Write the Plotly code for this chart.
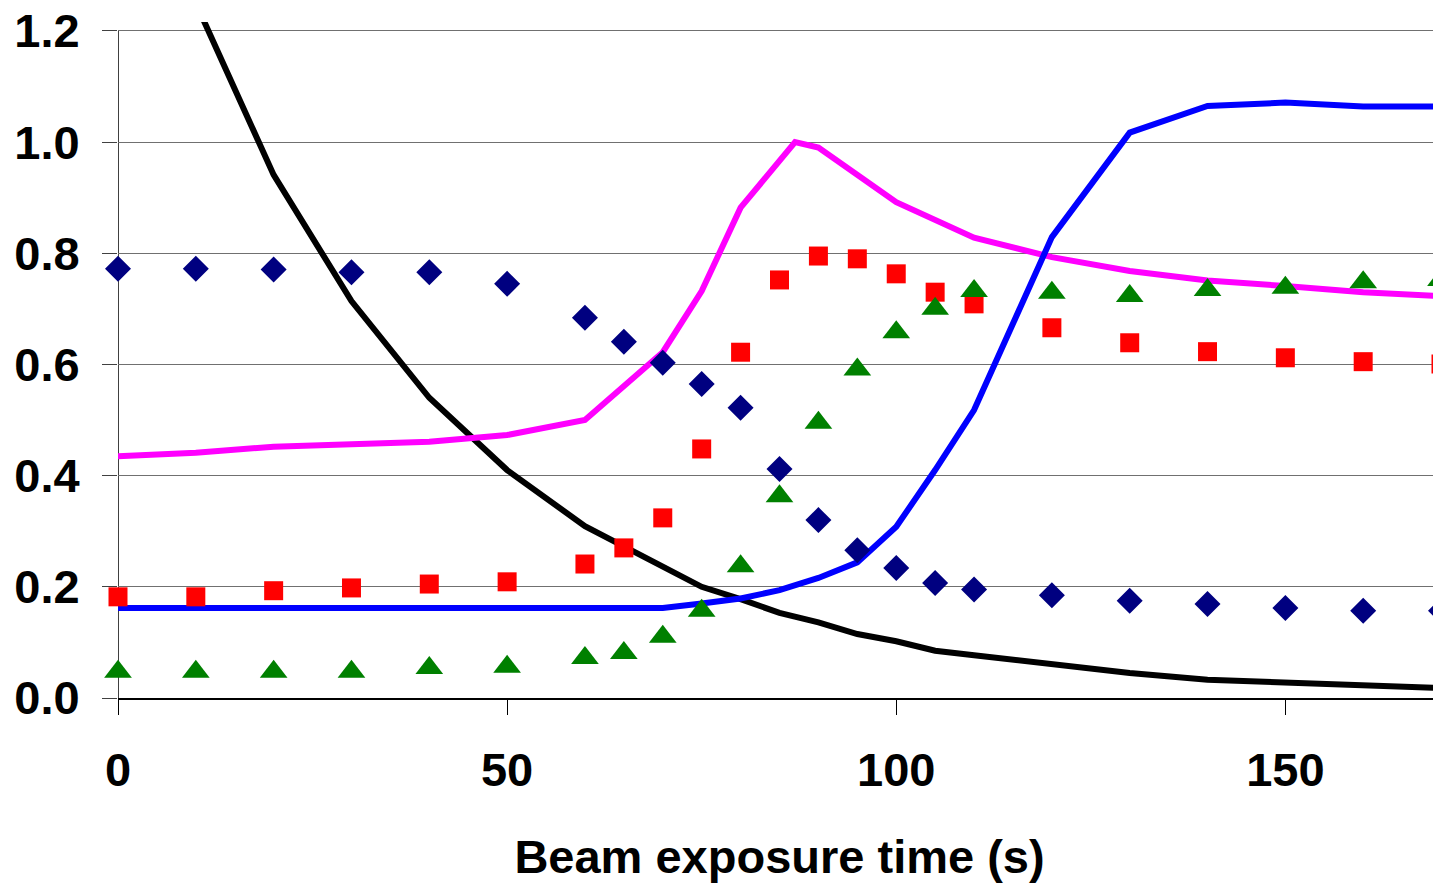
import plotly.graph_objects as go

# beam exposure time (s)
t_points = [0, 10, 20, 30, 40, 50, 60, 65, 70, 75, 80, 85, 90, 95, 100, 105, 110,
            120, 130, 140, 150, 160, 170]

diamonds = [0.772, 0.772, 0.771, 0.766, 0.766, 0.745, 0.684, 0.641, 0.603, 0.565,
            0.522, 0.412, 0.320, 0.266, 0.234, 0.207, 0.195, 0.185, 0.175, 0.169,
            0.162, 0.157, 0.157]
squares = [0.182, 0.182, 0.193, 0.198, 0.205, 0.209, 0.241, 0.270, 0.324, 0.448,
           0.622, 0.752, 0.795, 0.790, 0.763, 0.730, 0.709, 0.666, 0.639, 0.623,
           0.612, 0.605, 0.601]
triangles = [0.047, 0.047, 0.047, 0.047, 0.054, 0.056, 0.072, 0.081, 0.110, 0.157,
             0.237, 0.363, 0.495, 0.591, 0.658, 0.700, 0.732, 0.729, 0.723, 0.734,
             0.738, 0.748, 0.752]

t_magenta = [0, 10, 20, 30, 40, 50, 60, 70, 75, 80, 87, 90, 100, 110, 120, 130,
             140, 150, 160, 170]
magenta = [0.435, 0.441, 0.452, 0.457, 0.461, 0.473, 0.500, 0.622, 0.732, 0.882,
           1.000, 0.990, 0.892, 0.828, 0.793, 0.768, 0.751, 0.741, 0.730, 0.723]

t_blue = [0, 10, 20, 30, 40, 50, 60, 70, 75, 80, 85, 90, 95, 100, 105, 110, 120,
          130, 140, 150, 160, 170]
blue = [0.162, 0.162, 0.162, 0.162, 0.162, 0.162, 0.162, 0.162, 0.170, 0.179,
        0.194, 0.216, 0.244, 0.308, 0.410, 0.518, 0.829, 1.017, 1.065, 1.071,
        1.064, 1.064]

t_black = [0, 10, 20, 30, 40, 50, 60, 70, 75, 80, 85, 90, 95, 100, 105, 110, 120,
           130, 140, 150, 160, 170]
black = [1.60, 1.25, 0.941, 0.714, 0.540, 0.410, 0.309, 0.237, 0.200, 0.178,
         0.153, 0.136, 0.115, 0.102, 0.085, 0.077, 0.062, 0.045, 0.033, 0.028,
         0.023, 0.018]

font = dict(family="Liberation Sans, Arial", size=47, color="black", weight="bold")

fig = go.Figure()

# lines first so markers sit on top
fig.add_trace(go.Scatter(x=t_black, y=black, mode="lines",
                         line=dict(color="black", width=6)))
fig.add_trace(go.Scatter(x=t_magenta, y=magenta, mode="lines",
                         line=dict(color="#FF00FF", width=6)))
fig.add_trace(go.Scatter(x=t_blue, y=blue, mode="lines",
                         line=dict(color="#0000FF", width=6)))

fig.add_trace(go.Scatter(x=t_points, y=diamonds, mode="markers", cliponaxis=False,
                         marker=dict(symbol="diamond", size=20, color="#000080")))
fig.add_trace(go.Scatter(x=t_points, y=squares, mode="markers", cliponaxis=False,
                         marker=dict(symbol="square", size=19, color="#FF0000")))
fig.add_trace(go.Scatter(x=t_points, y=triangles, mode="markers", cliponaxis=False,
                         marker=dict(symbol="triangle-up", size=24, color="#008000")))

# left axis line stops at 1.2 like the original
fig.add_shape(type="line", xref="x", yref="y", x0=0, x1=0, y0=0, y1=1.2,
              line=dict(color="#404040", width=2), layer="below")

# the page body has an 8px margin, so the margins are shifted to compensate
fig.update_layout(
    width=1441, height=884,
    margin=dict(l=110, r=8, t=14, b=194, autoexpand=False),
    paper_bgcolor="white", plot_bgcolor="white",
    showlegend=False,
    font=font,
    xaxis=dict(
        range=[0, 170], tickvals=[0, 50, 100, 150],
        automargin=False,
        showgrid=False, zeroline=False,
        showline=True, linecolor="black", linewidth=2,
        ticks="outside", ticklen=15, tickcolor="black", tickwidth=1,
        ticklabelstandoff=15,
        tickfont=font,
        title=dict(text="Beam exposure time (s)", font=font, standoff=45),
    ),
    yaxis=dict(
        range=[0, 1.216], tickvals=[0, 0.2, 0.4, 0.6, 0.8, 1.0, 1.2],
        tickformat=".1f", automargin=False,
        showgrid=True, gridcolor="#707070", gridwidth=1,
        zeroline=False, showline=False,
        ticks="outside", ticklen=15, tickcolor="#404040", tickwidth=1,
        ticklabelstandoff=13, ticklabeloverflow="allow",
        tickfont=font,
    ),
)

fig.write_html("out.html")
